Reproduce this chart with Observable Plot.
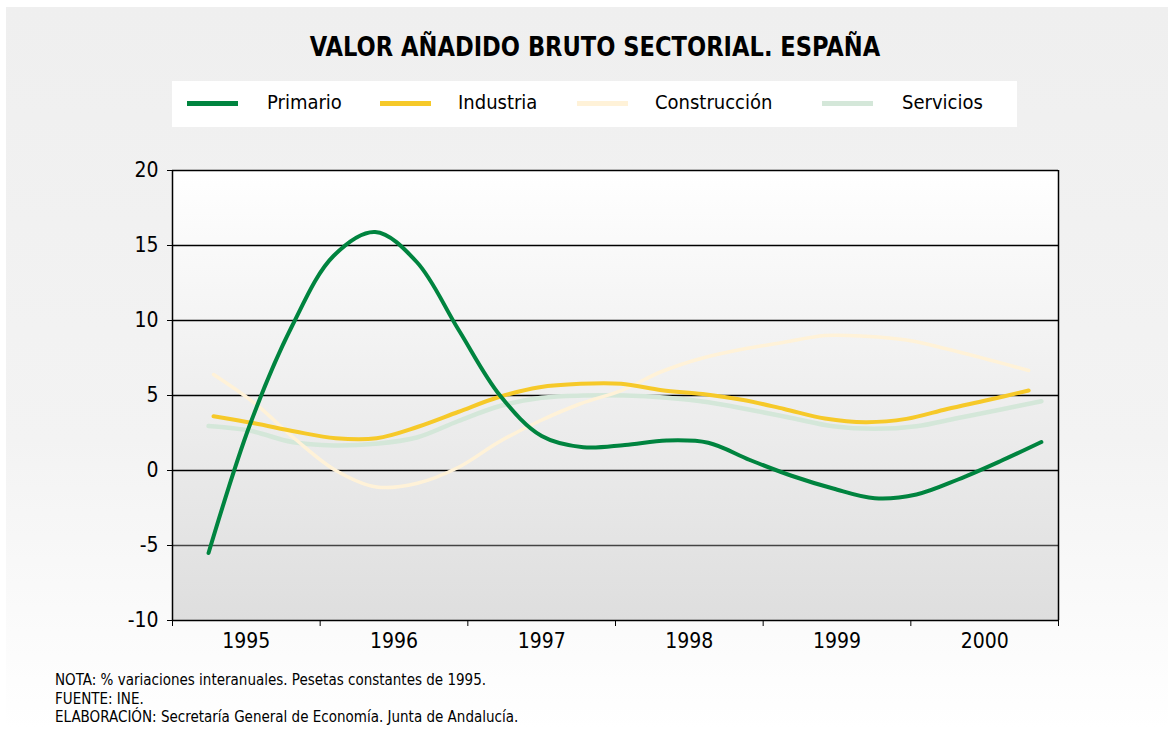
<!DOCTYPE html>
<html>
<head>
<meta charset="utf-8">
<script src="https://cdn.jsdelivr.net/npm/d3@7"></script>
<script src="https://cdn.jsdelivr.net/npm/@observablehq/plot@0.6"></script>
<style>
  html, body { margin: 0; padding: 0; background: #ffffff; }
  #page {
    position: relative; width: 1168px; height: 729px; overflow: hidden;
    font-family: "Liberation Sans Narrow", "DejaVu Sans Condensed", "Liberation Sans", sans-serif;
  }
  #bg {
    position: absolute; left: 6px; top: 7px; width: 1162px; height: 722px;
    background: linear-gradient(to bottom, #efefef 0%, #f3f3f3 60%, #ffffff 100%);
  }
  #title {
    position: absolute; left: 0; width: 1190px; top: 31px; text-align: center;
    font-weight: bold; font-size: 27px; color: #000;
    transform: scaleX(0.93); transform-origin: 595px 0;
  }
  #legend {
    position: absolute; left: 172px; top: 81px; width: 845px; height: 46px; background: #fff;
  }
  .sw { position: absolute; top: 20px; height: 5px; width: 51px; }
  .lt { position: absolute; top: 9px; font-size: 20px; color: #000; white-space: nowrap; }
  #chart { position: absolute; left: 0; top: 150px; }
  #foot {
    position: absolute; left: 55px; top: 671px; font-size: 15px; line-height: 18.5px; color: #000;
  }
</style>
</head>
<body>
<div id="page">
  <div id="bg"></div>
  <div id="title">VALOR AÑADIDO BRUTO SECTORIAL. ESPAÑA</div>
  <div id="legend"></div>
  <div id="chart"></div>
  <div id="foot">
    NOTA: % variaciones interanuales. Pesetas constantes de 1995.<br>
    FUENTE: INE.<br>
    ELABORACIÓN: Secretaría General de Economía. Junta de Andalucía.
  </div>
</div>
<script>
// ---- data ----
const seriesNames = ["Primario", "Industria", "Construcción", "Servicios"];
const seriesColors = ["#00843f", "#f6c929", "#fff2d8", "#d4e7d9"];
const yTicks = [20, 15, 10, 5, 0, -5, -10];
const yearBounds = [1995, 1996, 1997, 1998, 1999, 2000, 2001];
const yearLabels = ["1995", "1996", "1997", "1998", "1999", "2000"];

// x positions (fractional years) for the two sets of observations
const xA = [1995.244, 1995.526, 1995.808, 1996.090, 1996.372, 1996.654, 1996.936,
            1997.218, 1997.500, 1997.782, 1998.064, 1998.346, 1998.628, 1998.910,
            1999.192, 1999.474, 1999.756, 2000.038, 2000.320, 2000.602, 2000.884];
const xB = [1995.278, 1995.554, 1995.830, 1996.106, 1996.382, 1996.658, 1996.934,
            1997.210, 1997.486, 1997.762, 1998.038, 1998.314, 1998.590, 1998.866,
            1999.142, 1999.418, 1999.694, 1999.970, 2000.246, 2000.522, 2000.798];

const primario = [-5.5, 3.1, 9.6, 14.3, 15.9, 13.9, 9.4, 5.0, 2.3, 1.55, 1.7,
                  2.0, 1.85, 0.7, -0.35, -1.2, -1.85, -1.6, -0.6, 0.6, 1.9];
const industria = [3.62, 3.15, 2.6, 2.15, 2.15, 2.9, 3.9, 4.9, 5.55, 5.78, 5.78,
                   5.35, 5.1, 4.7, 4.1, 3.47, 3.22, 3.44, 4.1, 4.7, 5.33];
const construccion = [6.4, 4.5, 2.1, 0.0, -1.1, -0.85, 0.2, 1.9, 3.3, 4.45, 5.33,
                      6.6, 7.5, 8.1, 8.55, 9.0, 8.95, 8.7, 8.1, 7.4, 6.67];
const servicios = [2.96, 2.65, 1.9, 1.67, 1.78, 2.2, 3.3, 4.3, 4.85, 5.0, 5.0,
                   4.85, 4.55, 4.05, 3.5, 2.95, 2.78, 2.95, 3.5, 4.05, 4.62];

const rows = (name, xs, ys) => ys.map((v, i) => ({name, x: xs[i], y: v}));
const dPri = rows("Primario", xA, primario);
const dInd = rows("Industria", xB, industria);
const dCon = rows("Construcción", xB, construccion);
const dSer = rows("Servicios", xA, servicios);

// ---- legend ----
const legendPos = [[15, 95], [208, 286], [405, 483], [650, 730]];
const legend = document.getElementById("legend");
seriesNames.forEach((n, i) => {
  const sw = document.createElement("div");
  sw.className = "sw";
  sw.style.left = legendPos[i][0] + "px";
  sw.style.background = seriesColors[i];
  const t = document.createElement("div");
  t.className = "lt";
  t.style.left = legendPos[i][1] + "px";
  t.textContent = n;
  legend.appendChild(sw);
  legend.appendChild(t);
});

// ---- chart ----
const gradientDefs = () => {
  const defs = d3.create("svg:defs");
  const g = defs.append("linearGradient").attr("id", "plotbg")
    .attr("x1", 0).attr("y1", 0).attr("x2", 0).attr("y2", 1);
  g.append("stop").attr("offset", "0%").attr("stop-color", "#ffffff");
  g.append("stop").attr("offset", "100%").attr("stop-color", "#dedede");
  return defs.node();
};

const fontFam = '"Liberation Sans Narrow", "DejaVu Sans Condensed", "Liberation Sans", sans-serif';
const chart = Plot.plot({
  width: 1168,
  height: 515,
  marginTop: 20,
  marginBottom: 45,
  marginLeft: 172,
  marginRight: 110,
  style: {fontFamily: fontFam, fontSize: "20px", color: "#000", background: "transparent", overflow: "visible"},
  x: {domain: [1995, 2001]},
  y: {domain: [-10, 20]},
  marks: [
    gradientDefs,
    Plot.frame({fill: "url(#plotbg)", stroke: null}),
    Plot.ruleY(yTicks.filter(v => v > -10 && v < 20 && v !== -5), {stroke: "#000", strokeWidth: 1.3}),
    Plot.ruleY([-5], {stroke: "#444", strokeWidth: 1.3}),
    Plot.ruleY([20], {stroke: "#000", strokeWidth: 1.3}),
    Plot.ruleX([1995, 2001], {stroke: "#000", strokeWidth: 1.5}),
    Plot.ruleY([-10], {stroke: "#000", strokeWidth: 1.5}),
    Plot.axisY({ticks: yTicks, tickSize: 5, tickPadding: 9, label: null, tickFormat: d => String(d), fontSize: 21}),
    Plot.axisX({ticks: yearBounds, tickSize: 6, tickFormat: () => "", label: null}),
    Plot.text(yearLabels, {x: d => +d + 0.5, frameAnchor: "bottom", dy: 21, text: d => d, fontSize: 21, lineAnchor: "middle"}),
    Plot.line(dSer, {x: "x", y: "y", stroke: seriesColors[3], strokeWidth: 4.5, curve: "catmull-rom"}),
    Plot.line(dCon, {x: "x", y: "y", stroke: seriesColors[2], strokeWidth: 3.5, curve: "catmull-rom"}),
    Plot.line(dInd, {x: "x", y: "y", stroke: seriesColors[1], strokeWidth: 4, curve: "catmull-rom"}),
    Plot.line(dPri, {x: "x", y: "y", stroke: seriesColors[0], strokeWidth: 4, curve: "catmull-rom"})
  ]
});
document.getElementById("chart").appendChild(chart);
</script>
</body>
</html>
